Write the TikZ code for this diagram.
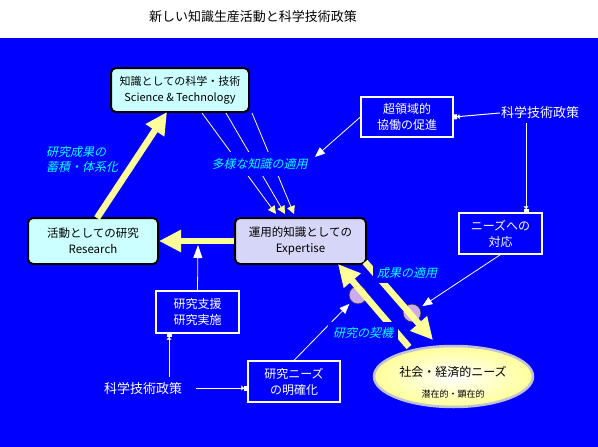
\documentclass[tikz,border=0pt]{standalone}
\usepackage{fontspec}
\setmainfont{Noto Sans CJK JP}
\newfontfamily\jpit[FakeSlant=0.22]{Noto Sans CJK JP}
\usetikzlibrary{arrows.meta,shapes.geometric}
\definecolor{bgblue}{RGB}{0,0,255}
\definecolor{pyel}{RGB}{255,255,153}
\definecolor{lcyan}{RGB}{204,255,255}
\definecolor{lav}{RGB}{214,214,248}
\definecolor{cir}{RGB}{204,170,238}
\definecolor{cirb}{RGB}{50,50,90}
\definecolor{ellb}{RGB}{192,192,214}
\definecolor{cyanlab}{RGB}{0,255,255}
\begin{document}
\begin{tikzpicture}[x=1pt,y=-1pt,
  rbox/.style={draw=black,line width=2pt,rounded corners=5pt,align=center,
    font=\fontsize{11.5}{16}\selectfont,inner sep=0pt},
  wbox/.style={draw=white,line width=1.2pt,text=white,align=center,
    font=\fontsize{12}{16}\selectfont,inner sep=0pt},
  polic/.style={text=white,font=\fontsize{13}{16}\selectfont,inner sep=1pt},
  lab/.style={text=cyanlab,font=\jpit\fontsize{12}{15}\selectfont,fill=bgblue,align=left},
  bigarr/.style={draw=pyel,line width=6.5pt,-{Triangle[length=22pt,width=21pt]}},
  thinarr/.style={draw=pyel,line width=0.8pt,-{Triangle[length=8pt,width=8pt]}},
  warr/.style={draw=white,line width=0.8pt,-{Triangle[length=10pt,width=8pt]}},
  sarr/.style={draw=white,line width=1pt,-{Triangle[length=2.5pt,width=5pt,sep=0pt]Rectangle[length=3.5pt,width=5pt]}},
  dot/.style={circle,fill=cir,draw=cirb,line width=0.8pt,minimum size=18pt,inner sep=0pt}
]
\useasboundingbox (0,0) rectangle (598,447);
\fill[white] (0,0) rectangle (598,37.5);
\fill[bgblue] (0,37.5) rectangle (598,447);

\node[font=\fontsize{13}{16}\selectfont] (title) at (253,17) {新しい知識生産活動と科学技術政策};

% main boxes
\node[rbox,fill=lcyan,minimum width=138pt,minimum height=44pt,font=\fontsize{11}{16}\selectfont] (sci) at (180,90)
  {知識としての科学・技術\\Science \& Technology};
\node[rbox,fill=lcyan,minimum width=130pt,minimum height=46pt] (res) at (93,241)
  {活動としての研究\\Research};
\node[rbox,fill=lav,minimum width=131pt,minimum height=46pt] (exp) at (300.5,241)
  {運用的知識としての\\Expertise};

% white boxes
\node[wbox,minimum width=92pt,minimum height=40pt] (cho) at (407,117) {超領域的\\協働の促進};
\node[wbox,minimum width=83pt,minimum height=41pt] (need) at (500.5,233.5) {ニーズへの\\対応};
\node[wbox,minimum width=83pt,minimum height=42pt] (sup) at (197.5,312) {研究支援\\研究実施};
\node[wbox,minimum width=92pt,minimum height=41pt] (rneed) at (294,381.5) {研究ニーズ\\の明確化};

\node[polic] (polR) at (540,113) {科学技術政策};
\node[polic] (polL) at (143,389) {科学技術政策};

% ellipse
\node[ellipse,minimum width=159pt,minimum height=61pt,draw=ellb,line width=2.5pt,
  inner color=white,outer color=pyel] (soc) at (453.5,376.5) {};
\node[font=\fontsize{12}{15}\selectfont,inner sep=0pt] (soc1) at (453,372) {社会・経済的ニーズ};
\node[font=\fontsize{9}{11}\selectfont,inner sep=0pt] (soc2) at (453,394) {潜在的・顕在的};

% circles
\node[dot] (c1) at (358,295) {};
\node[dot] (c2) at (412,313) {};

% coordinates
\coordinate (ra) at (97,218);
\coordinate (rb) at (167,112);
\coordinate (aa) at (409,347);
\coordinate (ab) at (338,264);
\coordinate (ba) at (365,262);
\coordinate (bb) at (433,340);
\coordinate (s1) at (202,113);
\coordinate (e1) at (276,214);
\coordinate (s2) at (226,113);
\coordinate (e2) at (285,214);
\coordinate (s3) at (252,113);
\coordinate (e3) at (294,214);
\coordinate (tgt1) at (315,157);
\coordinate (tup) at (198,245);
\coordinate (pv) at (526,123);
\coordinate (pl1) at (196,388);
\coordinate (pl2) at (169,377);

% yellow arrows
\draw[bigarr] (exp.west) -- (res.east);
\draw[bigarr] (ra) -- (rb);
\draw[bigarr] (aa) -- (ab);
\draw[bigarr] (ba) -- (bb);
\draw[thinarr] (s1) -- (e1);
\draw[thinarr] (s2) -- (e2);
\draw[thinarr] (s3) -- (e3);

% white arrows
\draw[warr] (cho.west) -- (tgt1);
\draw[warr,-{Triangle[length=13pt,width=9pt]}] (sup.north) -- (tup);
\draw[warr,shorten >=3pt] (rneed.north) -- (c1);
\draw[warr,shorten >=3pt] (need.south) -- (c2);
\draw[sarr] (polR.west) -- (cho.east);
\draw[sarr] (pv) -- (need.north -| pv);
\draw[sarr] (pl1) -- (rneed.west |- pl1);
\draw[sarr] (pl2) -- (sup.south -| pl2);

% labels
\node[lab,inner xsep=2pt,inner ysep=6pt] (l1) at (259.5,164) {多様な知識の適用};
\node[lab,inner sep=2pt] (l2) at (82,159.5) {研究成果の\\蓄積・体系化};
\node[lab,inner xsep=4pt,inner ysep=4pt] (l3) at (407,273) {成果の適用};
\node[lab,inner xsep=5pt,inner ysep=5pt] (l4) at (363,333) {研究の契機};
\end{tikzpicture}
\end{document}
